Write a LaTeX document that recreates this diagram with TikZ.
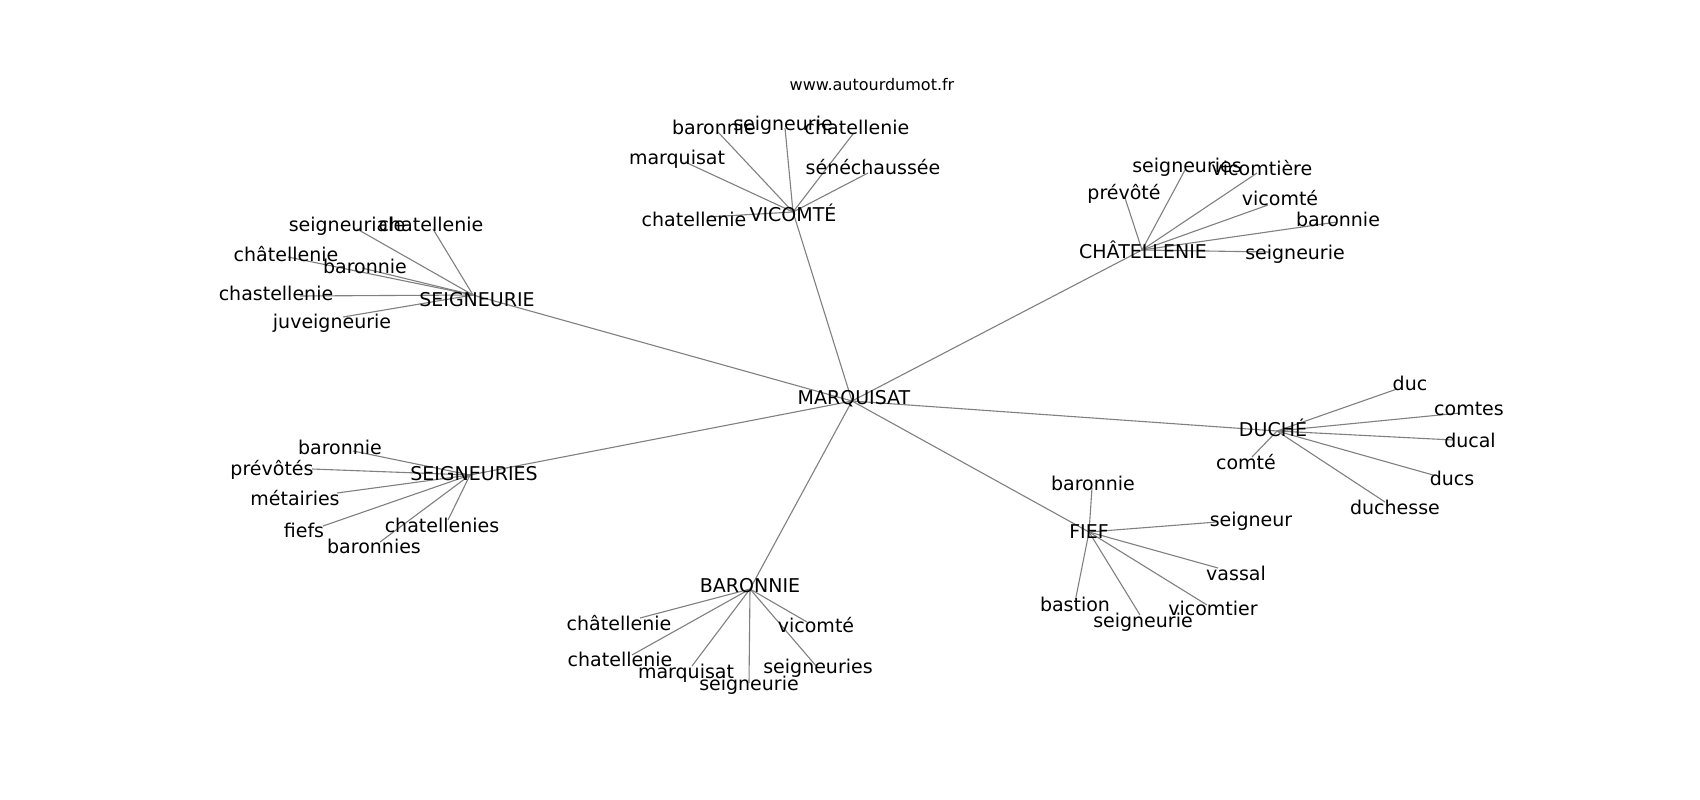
\documentclass[tikz,border=0pt]{standalone}
\usepackage{fontspec}
\setmainfont{DejaVu Sans}
\begin{document}
\begin{tikzpicture}[x=1pt,y=-1pt,
  lbl/.style={inner sep=0pt,anchor=center,yshift=-3pt,text height=0.76em,text depth=0.22em,font=\fontsize{19}{23}\selectfont,text=black},
  url/.style={inner sep=0pt,anchor=center,yshift=-2pt,font=\fontsize{16}{19}\selectfont,text=black},
  edge/.style={draw=gray,line width=1.1pt}]
\useasboundingbox[fill=white] (0,0) rectangle (1700,800);
% graph positions
\coordinate (M) at (852,401);
\coordinate (V) at (793,212);
\coordinate (C) at (1142,250);
\coordinate (S) at (473,295);
\coordinate (SS) at (470,475);
\coordinate (B) at (750,589);
\coordinate (F) at (1089,532);
\coordinate (D) at (1277,431);
% VICOMTE leaves
\coordinate (v1) at (718,132);
\coordinate (v2) at (785,128);
\coordinate (v3) at (853,134);
\coordinate (v4) at (685,162);
\coordinate (v5) at (868,173);
\coordinate (v6) at (707,217);
% CHATELLENIE leaves
\coordinate (c1) at (1185,170);
\coordinate (c2) at (1257,173);
\coordinate (c3) at (1125,198);
\coordinate (c4) at (1268,205);
\coordinate (c5) at (1337,222);
\coordinate (c6) at (1270,252);
% SEIGNEURIE leaves
\coordinate (s1) at (357,229);
\coordinate (s2) at (433,229);
\coordinate (s3) at (288,257);
\coordinate (s4) at (362,268);
\coordinate (s5) at (300,296);
\coordinate (s6) at (343,317);
% SEIGNEURIES leaves
\coordinate (ss1) at (353,451);
\coordinate (ss2) at (312,469);
\coordinate (ss3) at (337,493);
\coordinate (ss4) at (323,526);
\coordinate (ss5) at (448,520);
\coordinate (ss6) at (380,542);
% BARONNIE leaves
\coordinate (b1) at (640,618);
\coordinate (b2) at (632,655);
\coordinate (b3) at (692,666);
\coordinate (b4) at (749,683);
\coordinate (b5) at (807,622);
\coordinate (b6) at (817,667);
% FIEF leaves
\coordinate (f1) at (1092,488);
\coordinate (f2) at (1217,522);
\coordinate (f3) at (1218,568);
\coordinate (f4) at (1076,597);
\coordinate (f5) at (1207,605);
\coordinate (f6) at (1140,615);
% DUCHE leaves
\coordinate (d1) at (1397,389);
\coordinate (d2) at (1460,413);
\coordinate (d3) at (1453,440);
\coordinate (d4) at (1433,475);
\coordinate (d5) at (1385,502);
\coordinate (d6) at (1252,457);
% edges
\foreach \h in {V,C,S,SS,B,F,D} \draw[edge] (M) -- (\h);
\foreach \l in {v1,v2,v3,v4,v5,v6} \draw[edge] (V) -- (\l);
\foreach \l in {c1,c2,c3,c4,c5,c6} \draw[edge] (C) -- (\l);
\foreach \l in {s1,s2,s3,s4,s5,s6} \draw[edge] (S) -- (\l);
\foreach \l in {ss1,ss2,ss3,ss4,ss5,ss6} \draw[edge] (SS) -- (\l);
\foreach \l in {b1,b2,b3,b4,b5,b6} \draw[edge] (B) -- (\l);
\foreach \l in {f1,f2,f3,f4,f5,f6} \draw[edge] (F) -- (\l);
\foreach \l in {d1,d2,d3,d4,d5,d6} \draw[edge] (D) -- (\l);
% labels
\node[url] (url) at (872,83) {www.autourdumot.fr};
\node[lbl] (tM) at (854,399) {MARQUISAT};
\node[lbl] (tV) at (793,216) {VICOMTÉ};
\node[lbl] (tC) at (1143,253) {CHÂTELLENIE};
\node[lbl] (tS) at (477,301) {SEIGNEURIE};
\node[lbl] (tSS) at (474,475) {SEIGNEURIES};
\node[lbl] (tB) at (750,587) {BARONNIE};
\node[lbl] (tF) at (1089,533) {FIEF};
\node[lbl] (tD) at (1273,431) {DUCHÉ};
\node[lbl] (tv1) at (714,129) {baronnie};
\node[lbl] (tv2) at (783,125) {seigneurie};
\node[lbl] (tv3) at (857,129) {chatellenie};
\node[lbl] (tv4) at (677,159) {marquisat};
\node[lbl] (tv5) at (873,169) {sénéchaussée};
\node[lbl] (tv6) at (694,221) {chatellenie};
\node[lbl] (tc1) at (1187,167) {seigneuries};
\node[lbl] (tc2) at (1262,170) {vicomtière};
\node[lbl] (tc3) at (1124,194) {prévôté};
\node[lbl] (tc4) at (1280,200) {vicomté};
\node[lbl] (tc5) at (1338,221) {baronnie};
\node[lbl] (tc6) at (1295,254) {seigneurie};
\node[lbl] (ts1) at (347,226) {seigneuriale};
\node[lbl] (ts2) at (431,226) {chatellenie};
\node[lbl] (ts3) at (286,256) {châtellenie};
\node[lbl] (ts4) at (365,268) {baronnie};
\node[lbl] (ts5) at (276,295) {chastellenie};
\node[lbl] (ts6) at (332,323) {juveigneurie};
\node[lbl] (tss1) at (340,449) {baronnie};
\node[lbl] (tss2) at (272,470) {prévôtés};
\node[lbl] (tss3) at (295,500) {métairies};
\node[lbl] (tss4) at (304,532) {fiefs};
\node[lbl] (tss5) at (442,527) {chatellenies};
\node[lbl] (tss6) at (374,548) {baronnies};
\node[lbl] (tb1) at (619,625) {châtellenie};
\node[lbl] (tb2) at (620,661) {chatellenie};
\node[lbl] (tb3) at (686,673) {marquisat};
\node[lbl] (tb4) at (749,685) {seigneurie};
\node[lbl] (tb5) at (816,627) {vicomté};
\node[lbl] (tb6) at (818,668) {seigneuries};
\node[lbl] (tf1) at (1093,485) {baronnie};
\node[lbl] (tf2) at (1251,521) {seigneur};
\node[lbl] (tf3) at (1236,575) {vassal};
\node[lbl] (tf4) at (1075,606) {bastion};
\node[lbl] (tf5) at (1213,610) {vicomtier};
\node[lbl] (tf6) at (1143,622) {seigneurie};
\node[lbl] (td1) at (1410,385) {duc};
\node[lbl] (td2) at (1469,410) {comtes};
\node[lbl] (td3) at (1470,442) {ducal};
\node[lbl] (td4) at (1452,480) {ducs};
\node[lbl] (td5) at (1395,509) {duchesse};
\node[lbl] (td6) at (1246,464) {comté};
\end{tikzpicture}
\end{document}
